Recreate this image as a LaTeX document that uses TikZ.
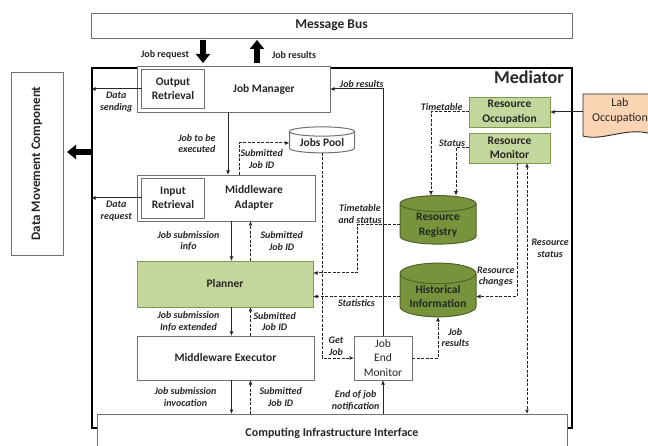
\documentclass[tikz,border=0pt]{standalone}
\usepackage{fontspec}
\setmainfont{Carlito}
\usetikzlibrary{positioning,shapes.geometric,arrows.meta,backgrounds}

\definecolor{lightolive}{HTML}{C3D69B}
\definecolor{oliveedge}{HTML}{7E9A50}
\definecolor{darkolive}{HTML}{77933C}
\definecolor{deepolive}{HTML}{4F6228}
\definecolor{peach}{HTML}{FBD4B4}
\definecolor{edgegray}{HTML}{707070}
\definecolor{ink}{HTML}{262626}

\newcommand{\boxfont}{\fontsize{11.5}{14.5}\selectfont\bfseries}
\newcommand{\lblfont}{\fontsize{10}{11.5}\selectfont\bfseries\itshape}

\tikzset{
  box/.style={draw=edgegray, fill=white, line width=0.9pt, font=\boxfont,
    text=ink, align=center, inner sep=1pt, outer sep=0pt},
  greenbox/.style={box, fill=lightolive, draw=oliveedge},
  boxtext/.style={font=\boxfont, text=ink, align=center, inner sep=1pt},
  store/.style={cylinder, shape border rotate=90, draw=deepolive,
    fill=darkolive, line width=1pt, font=\boxfont, text=black!85,
    align=center, inner sep=1pt, outer sep=0pt},
  lbl/.style={font=\lblfont, text=ink, align=center, inner sep=1pt},
  lblup/.style={lbl, font=\fontsize{10}{11.5}\selectfont\bfseries},
  arr/.style={draw=ink, line width=1pt, -{Latex[length=4.5pt,width=4pt]}},
  darr/.style={arr, dash pattern=on 3pt off 1.5pt},
  bigarrow/.style={draw=black, line width=6pt, -{Triangle[length=9pt,width=14pt]}},
}

\begin{document}
\begin{tikzpicture}[x=1pt,y=1pt]
\useasboundingbox (0,0) rectangle (648,-446);

% bus, frame and data movement
\node[box, minimum width=481pt, minimum height=25pt,
  font=\fontsize{13.5}{15}\selectfont\bfseries] (bus) at (331.5,-25.5) {Message Bus};
\node[draw=black, line width=2pt, minimum width=480pt, minimum height=360pt,
  label={[font=\fontsize{18}{20}\selectfont\bfseries, text=ink, inner sep=1pt,
  anchor=north east, xshift=-8pt, yshift=-3pt]north east:Mediator}] (med) at (332,-248) {};
\node[box, minimum width=52pt, minimum height=183pt,
  label={[boxtext, font=\fontsize{13}{15}\selectfont\bfseries, rotate=90]center:Data Movement Component}] (dmc) at (37,-163.5) {};

% job column
\node[box, minimum width=193pt, minimum height=46pt,
  label={[boxtext, xshift=30.5pt]center:Job Manager}] (jm) at (233.5,-89) {};
\node[box, minimum width=63pt, minimum height=39pt, right=4.5pt of jm.west] (outret) {Output\\Retrieval};
\node[box, minimum width=178pt, minimum height=46pt, below=63pt of jm.south west, anchor=north west,
  label={[boxtext, xshift=28pt]center:Middleware\\Adapter}] (ma) {};
\node[box, minimum width=63pt, minimum height=40pt, right=4.5pt of ma.west] (inret) {Input\\Retrieval};
\node[greenbox, minimum width=176pt, minimum height=46pt, below=40pt of ma.south west, anchor=north west] (planner) {Planner};
\node[box, minimum width=177pt, minimum height=44pt, below=29pt of planner.south west, anchor=north west] (mex) {Middleware Executor};
\node[box, font=\fontsize{11.5}{14.5}\selectfont, minimum width=58pt, minimum height=44pt, right=40pt of mex] (jem) {Job\\End\\Monitor};
\node[box, minimum width=470pt, minimum height=38pt, font=\fontsize{12}{14}\selectfont\bfseries] (ci) at (332,-433) {Computing Infrastructure Interface};
\node[store, fill=white, draw=edgegray, minimum width=65pt, minimum height=26pt, aspect=0.2] (pool) at (322,-143) {Jobs Pool};

% resource side
\node[greenbox, minimum width=81pt, minimum height=30pt] (resocc) at (509.5,-112) {Resource\\Occupation};
\node[greenbox, minimum width=81pt, minimum height=30pt, below=6pt of resocc] (resmon) {Resource\\Monitor};
\node[store, minimum width=76pt, minimum height=46pt, aspect=0.35] (reg) at (438,-225) {Resource\\Registry};
\node[store, minimum width=76pt, minimum height=45pt, aspect=0.35, below=19pt of reg] (hist) {Historical\\Information};
\node[font=\fontsize{12}{14.5}\selectfont, text=ink, align=center, minimum width=74pt, minimum height=34pt,
  inner sep=1pt, outer sep=0pt] (lab) at (620,-111) {Lab\\Occupation};
\begin{scope}[on background layer]
\draw[draw=ink, fill=peach, line width=0.9pt]
  (lab.north west) -- (lab.north east) -- ([yshift=-8pt]lab.south east)
  .. controls ([xshift=-27pt,yshift=4pt]lab.south east) and ([xshift=22pt,yshift=-14pt]lab.south west) ..
  ([yshift=-8pt]lab.south west) -- cycle;
\end{scope}

% lanes
\coordinate (reqx) at (203,0);
\coordinate (resx) at (257,0);
\coordinate (dmcy) at (0,-152);
\coordinate (jobx) at (228,0);
\coordinate (poolx) at (239,0);
\coordinate (downx) at (231.5,0);
\coordinate (upx) at (250.5,0);
\coordinate (statx) at (527,0);

% message bus traffic
\draw[bigarrow, shorten <=2pt, shorten >=3pt] (reqx |- bus.south) -- node[lblup, left=10pt, yshift=-3pt] {Job request} (reqx |- jm.north);
\draw[bigarrow, shorten <=3pt, shorten >=2pt] (resx |- jm.north) -- node[lblup, right=11pt, yshift=-3pt] {Job results} (resx |- bus.south);
\draw[bigarrow, shorten >=4pt] (med.west |- dmcy) -- (dmc.east |- dmcy);

% job flow
\draw[arr] (outret.west) -- node[lbl, below=2pt] {Data\\sending} (outret.west -| med.west);
\draw[arr] (inret.west) -- node[lbl, below=2pt] {Data\\request} (inret.west -| med.west);
\draw[arr] (jobx |- jm.south) -- node[lbl, left=11pt] {Job to be\\executed} (jobx |- ma.north);
\draw[darr] (poolx |- ma.north) |- node[lbl, right=0pt, pos=0.25] {Submitted\\Job ID} (pool.west);
\draw[arr] (downx |- ma.south) -- node[lbl, left=10.5pt] {Job submission\\info} (downx |- planner.north);
\draw[darr] (upx |- planner.north) -- node[lbl, right=8.5pt] {Submitted\\Job ID} (upx |- ma.south);
\draw[arr] (downx |- planner.south) -- node[lbl, left=10.5pt] {Job submission\\Info extended} (downx |- mex.north);
\draw[darr] (upx |- mex.north) -- node[lbl, right=1.5pt] {Submitted\\Job ID} (upx |- planner.south);
\draw[arr] (downx |- mex.south) -- node[lbl, left=13.5pt] {Job submission\\invocation} (downx |- ci.north);
\draw[darr] (upx |- ci.north) -- node[lbl, right=7.5pt] {Submitted\\Job ID} (upx |- mex.south);
\draw[darr] (pool.south) |- node[lbl, above=1pt, pos=0.72] {Get\\Job} (jem.west);
\draw[arr] (jem |- ci.north) -- node[lbl, left=2pt, pos=0.4] {End of job\\notification} (jem.south);
\draw[arr] (jem.north) |- node[lbl, above=0pt, pos=0.7] {Job results} (jm.east);
\draw[darr] (jem.east) -| node[lbl, right=2pt, pos=0.75] {Job\\results} (hist.south);

% resource flow
\draw[arr] (resocc.east -| lab.west) -- (resocc.east);
\draw[darr] (resocc.west) -| node[lbl, above=0pt, pos=0.36] {Timetable} ([xshift=-7pt]reg.north);
\draw[darr] (resmon.west) -| node[lbl, above=0pt, pos=0.5, xshift=-4pt] {Status} ([xshift=18pt]reg.north);
\draw[darr] (reg.west) -- ++(-43,0) node[lbl, above=0pt, xshift=3pt] {Timetable\\and status} |- ([yshift=11pt]planner.east);
\draw[darr] (hist.west) -- node[lbl, below=1pt] {Statistics} (hist.west -| planner.east);
\draw[darr] ([xshift=7.5pt]resmon.south) |- node[lbl, left=1pt, pos=0.425] {Resource\\changes} (hist.east);
\draw[darr, {Latex[length=4.5pt,width=4pt]}-{Latex[length=4.5pt,width=4pt]}] (statx |- resmon.south) -- node[lbl, right=3pt, pos=0.34] {Resource\\status} (statx |- ci.north);
\end{tikzpicture}
\end{document}
